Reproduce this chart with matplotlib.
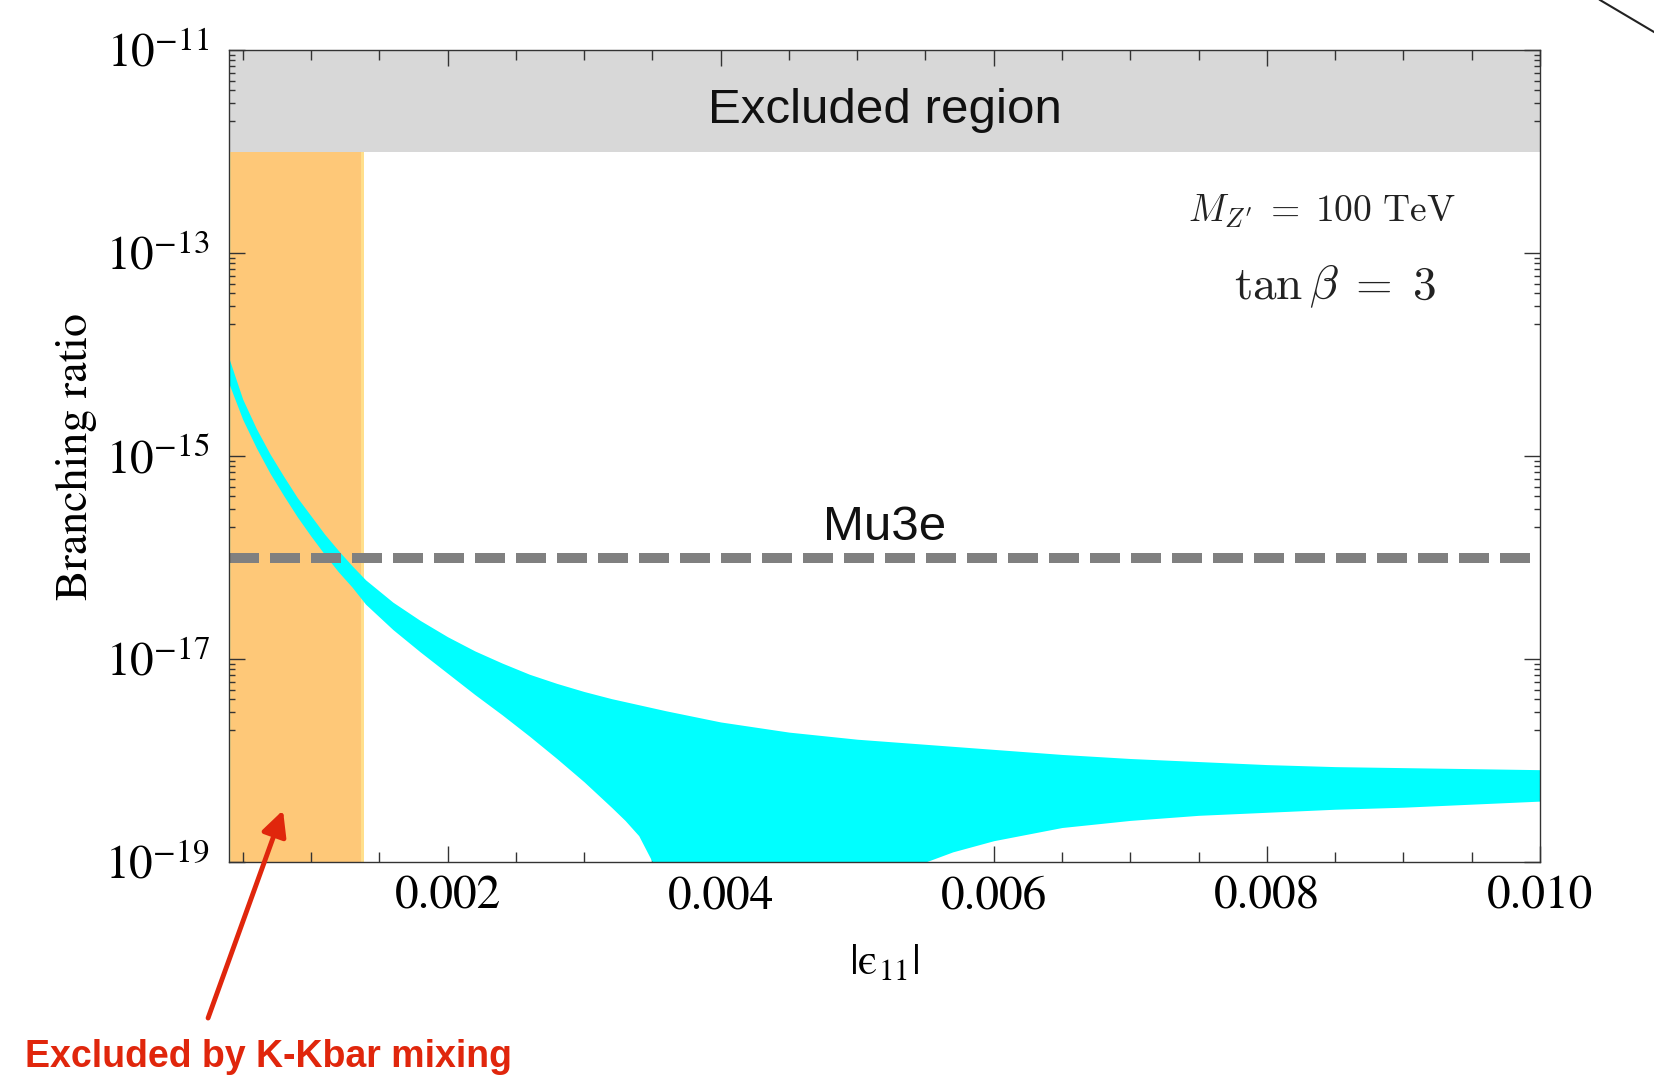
import numpy as np
import matplotlib.pyplot as plt
from matplotlib.lines import Line2D

# |eps_11| grid and log10 of the band edges
eps = [0.0004, 0.0005, 0.0006, 0.0007, 0.0008, 0.0009, 0.0010, 0.0011, 0.0012,
       0.0013, 0.0014, 0.0016, 0.0018, 0.0020, 0.0022, 0.0024, 0.0026, 0.0028,
       0.0030, 0.0032, 0.0033, 0.0034, 0.0035, 0.0036, 0.0040, 0.0045, 0.0050,
       0.0054, 0.0055, 0.0057, 0.0060, 0.0065, 0.0070, 0.0075, 0.0080, 0.0085,
       0.0090, 0.0095, 0.0100]
br_upper_log = [-14.04, -14.44, -14.73, -14.98, -15.20, -15.41, -15.59, -15.77, -15.93,
                -16.08, -16.22, -16.44, -16.62, -16.78, -16.92, -17.04, -17.15, -17.24,
                -17.32, -17.39, -17.42, -17.45, -17.48, -17.51, -17.62, -17.72, -17.79,
                -17.83, -17.84, -17.86, -17.89, -17.94, -17.98, -18.01, -18.04, -18.06,
                -18.07, -18.08, -18.09]
br_lower_log = [-14.29, -14.64, -14.92, -15.17, -15.39, -15.60, -15.79, -15.97, -16.14,
                -16.29, -16.46, -16.71, -16.93, -17.14, -17.35, -17.55, -17.76, -17.98,
                -18.21, -18.46, -18.59, -18.74, -19.00, -19.60, -20.0, -20.0, -20.0,
                -19.60, -19.00, -18.90, -18.79, -18.66, -18.59, -18.54, -18.51, -18.48,
                -18.46, -18.43, -18.40]

x_min, x_max = 0.0004, 0.010
y_min, y_max = 1e-19, 1e-11
excluded_level = 1e-12      # grey band
mu3e_level = 1e-16          # Mu3e sensitivity
kk_limit = 0.00139          # K-Kbar mixing bound

x_ticks = [0.002, 0.004, 0.006, 0.008, 0.010]
x_ticklabels = ['0.002', '0.004', '0.006', '0.008', '0.010']
x_minor = [0.0005 * k for k in range(1, 20) if k % 4 != 0]
y_exps = [-19, -17, -15, -13, -11]

plt.rcParams['font.family'] = 'STIXGeneral'
plt.rcParams['mathtext.fontset'] = 'stix'

fig = plt.figure(figsize=(16.54, 10.88), dpi=100)
ax = fig.add_axes([0.1385, 0.2077, 0.7925, 0.7463])
ax.set_yscale('log')
ax.set_xlim(x_min, x_max)
ax.set_ylim(y_min, y_max)

ax.axhspan(excluded_level, y_max, color='#d8d8d8', lw=0, zorder=1)
ax.fill_between([x_min, kk_limit], y_min, excluded_level, color='#fec878', lw=0, zorder=1)
ax.fill_between([kk_limit - 0.000025, kk_limit], y_min, excluded_level, color='#ffdf8c', lw=0, zorder=1)
ax.fill_between([x_min, x_min + 0.000012], y_min, excluded_level, color='#ffdf8c', lw=0, zorder=1)

ax.fill_between(eps, 10.0 ** np.array(br_lower_log), 10.0 ** np.array(br_upper_log),
                color='#00ffff', lw=0, zorder=2)

ax.axhline(mu3e_level, color='#808080', lw=7.2, dashes=(3.0, 1.1), zorder=3)

sans = 'Liberation Sans'
ax.text(0.0052, 10 ** -11.72, 'Excluded region', ha='center', va='baseline',
        fontsize=35.5, family=sans, color='#111111', zorder=4)
ax.text(0.0052, 10 ** -15.83, 'Mu3e', ha='center', va='baseline',
        fontsize=35.5, family=sans, color='#111111', zorder=4)
ax.text(0.0084, 10 ** -12.69, r"$M_{Z'}\;=\;100\ \mathrm{TeV}$", ha='center', va='baseline',
        fontsize=27, math_fontfamily='cm', color='#222222', zorder=4)
ax.text(0.0085, 10 ** -13.46, r'$\tan\beta\;=\;3$', ha='center', va='baseline',
        fontsize=34, math_fontfamily='cm', color='#222222', zorder=4)

# ticks
ax.set_xticks(x_ticks)
ax.set_xticklabels(x_ticklabels)
ax.set_xticks(x_minor, minor=True)
ax.set_yticks([10.0 ** e for e in y_exps])
ax.set_yticklabels([r'$10^{%d}$' % e for e in y_exps])
ax.set_yticks([m * 10.0 ** (e - 1) for e in y_exps[1:] for m in range(2, 10)], minor=True)
ax.set_yticklabels([], minor=True)
ax.tick_params(which='both', direction='in', top=True, right=True, width=1, color='#333333')
ax.tick_params(axis='x', which='major', length=11.5, pad=10, labelsize=34)
ax.tick_params(axis='x', which='minor', length=7)
ax.tick_params(axis='y', which='major', length=11.5, pad=14, labelsize=34)
ax.tick_params(axis='y', which='minor', length=4)
for s in ax.spines.values():
    s.set_color('#333333')
    s.set_linewidth(1.0)
    s.set_zorder(5)

ax.set_xlabel('|\u03f5$_{11}$|', fontsize=32)
ax.xaxis.set_label_coords(0.5, -0.10)
ax.set_ylabel('Branching ratio', fontsize=33)
ax.yaxis.set_label_coords(-0.101, 0.5)

red = '#e0260c'
ax.annotate('', xy=(0.000795, 10 ** -18.49), xycoords='data',
            xytext=(0.1258, 0.0643), textcoords='figure fraction',
            arrowprops=dict(arrowstyle='-|>', color=red, lw=3.5, mutation_scale=38,
                            shrinkA=0, shrinkB=0),
            annotation_clip=False, zorder=6)
fig.text(25 / 1654, 0.0193, 'Excluded by K-Kbar mixing', ha='left', va='baseline',
         fontsize=27, family=sans, fontweight='bold', color=red)

# stray stroke in the corner of the original screenshot
fig.add_artist(Line2D([1600 / 1654, 1.0], [1.0, 1 - 32 / 1088], transform=fig.transFigure,
                      color='#222222', lw=1.5))

fig.savefig('out.png', dpi=100)
